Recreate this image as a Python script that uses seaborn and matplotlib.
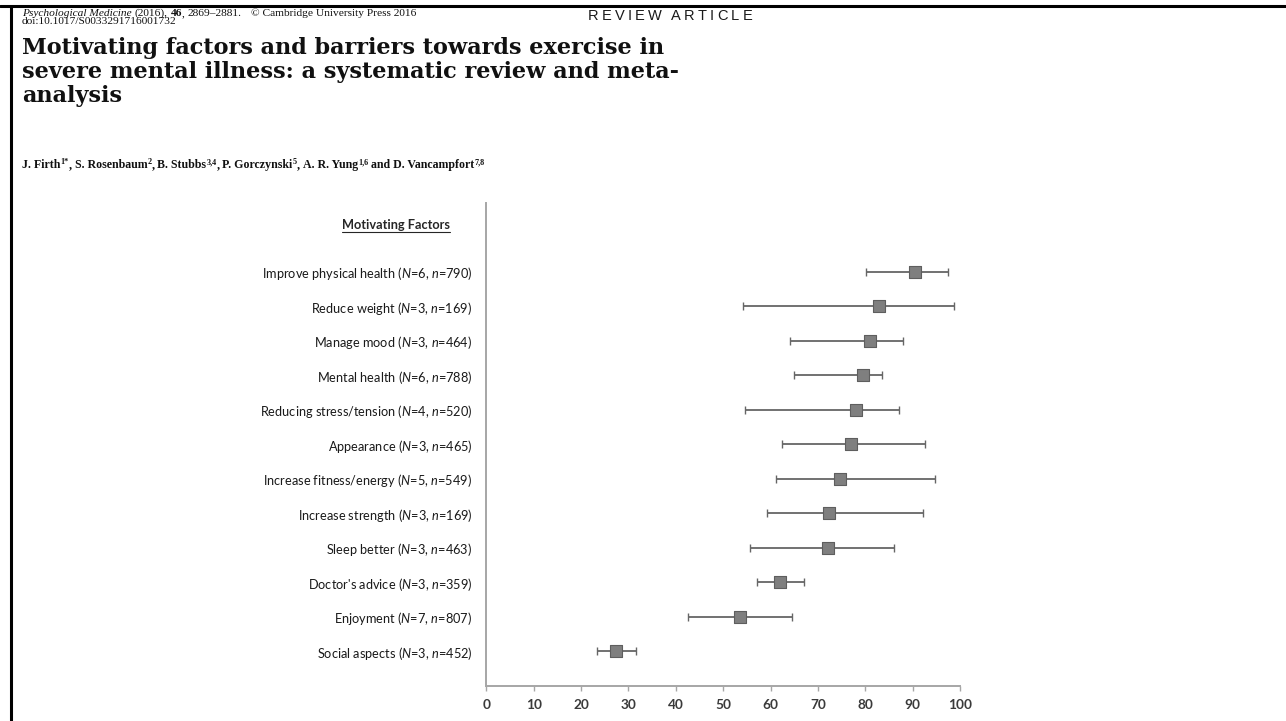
import numpy as np
import pandas as pd
import matplotlib
matplotlib.use("Agg")
import matplotlib.pyplot as plt
from matplotlib.lines import Line2D
import seaborn as sns

# ---------------- data ----------------
factors = [
    "Improve physical health", "Reduce weight", "Manage mood", "Mental health",
    "Reducing stress/tension", "Appearance", "Increase fitness/energy",
    "Increase strength", "Sleep better", "Doctor's advice", "Enjoyment",
    "Social aspects",
]
n_studies = [6, 3, 3, 6, 4, 3, 5, 3, 3, 3, 7, 3]
n_participants = [790, 169, 464, 788, 520, 465, 549, 169, 463, 359, 807, 452]
estimate = [90.5, 82.8, 80.9, 79.6, 78.0, 76.9, 74.7, 72.4, 72.1, 62.1, 53.6, 27.4]
ci_lower = [80.2, 54.2, 64.1, 65.0, 54.7, 62.4, 61.1, 59.3, 55.7, 57.2, 42.6, 23.4]
ci_upper = [97.5, 98.8, 87.9, 83.5, 87.2, 92.6, 94.8, 92.2, 86.1, 67.1, 64.5, 31.5]
x_ticks = [0, 10, 20, 30, 40, 50, 60, 70, 80, 90, 100]

df = pd.DataFrame({
    "factor": factors, "N": n_studies, "n": n_participants,
    "est": estimate, "lo": ci_lower, "hi": ci_upper,
})
df["pos"] = np.arange(len(df))
df["label"] = [f"{f} ($\\mathit{{N}}$={a}, $\\mathit{{n}}$={b})"
               for f, a, b in zip(df.factor, df.N, df.n)]

# ---------------- style ----------------
sns.set_theme(style="white")
plt.rcParams["font.family"] = ["Lato", "DejaVu Sans"]
plt.rcParams["mathtext.fontset"] = "custom"
plt.rcParams["mathtext.rm"] = "Lato"
plt.rcParams["mathtext.it"] = "Lato:italic"
plt.rcParams["mathtext.bf"] = "Lato:bold"

W, H, DPI = 1286, 721, 100
fig = plt.figure(figsize=(W / DPI, H / DPI), dpi=DPI)
fig.patch.set_facecolor("white")

ax_left, ax_right, ax_top, ax_bottom = 486.3, 960.0, 203.0, 685.7
ax = fig.add_axes([ax_left / W, (H - ax_bottom) / H,
                   (ax_right - ax_left) / W, (ax_bottom - ax_top) / H])

grey = "#a6a6a6"
ax.errorbar(df.est, df.pos, xerr=[df.est - df.lo, df.hi - df.est],
            fmt="none", ecolor="#666666", elinewidth=1.3, capsize=2.6,
            capthick=1.0, zorder=2)
sns.scatterplot(data=df, x="est", y="pos", marker="s", s=70,
                color="#7f7f7f", edgecolor="#5e5e5e", linewidth=0.8,
                ax=ax, zorder=3, legend=False)

ax.set_xlim(0, 100)
ax.set_ylim(12, -2)
ax.set_xticks(x_ticks)
ax.set_xticklabels([str(t) for t in x_ticks], fontsize=9.8,
                   fontweight="bold", color="#3a3a3a")
ax.set_yticks(df.pos)
ax.set_yticklabels(df.label, fontsize=9.2, color="#1a1a1a")
ax.tick_params(axis="y", length=0, pad=10)
ax.tick_params(axis="x", direction="out", length=3.5, width=1.0,
               color=grey, pad=6, bottom=True)
ax.set_xlabel("")
ax.set_ylabel("")
for s in ["top", "right"]:
    ax.spines[s].set_visible(False)
for s in ["left", "bottom"]:
    ax.spines[s].set_color(grey)
    ax.spines[s].set_linewidth(1.4)

# ---------------- page decorations ----------------
def fx(x):
    return x / W

def fy(y):
    return (H - y) / H

fig.add_artist(Line2D([0, 1], [fy(5.5), fy(5.5)], color="black", lw=2.2,
                      transform=fig.transFigure))
fig.add_artist(Line2D([fx(10.5), fx(10.5)], [fy(5.5), 0], color="black", lw=2.2,
                      transform=fig.transFigure))

fig.canvas.draw()
renderer = fig.canvas.get_renderer()


def runs(x, y, parts, base, scale=1.0):
    """parts: list of (text, props, dy, gap_after); returns (end_x, artists)"""
    arts = []
    for text, props, dy, gap in parts:
        kw = dict(base)
        kw.update(props)
        kw["fontsize"] = kw["fontsize"] * scale
        t = fig.text(fx(x), fy(y + dy * scale), text, va="baseline", ha="left", **kw)
        arts.append(t)
        bb = t.get_window_extent(renderer)
        x += bb.width + gap * scale
    return x, arts


def fitted_runs(x, y, parts, base, target_w):
    end, arts = runs(x, y, parts, base)
    for a in arts:
        a.remove()
    scale = target_w / (end - x)
    return runs(x, y, parts, base, scale)


def fitted_text(x, y, s, target_w, **kw):
    t = fig.text(fx(x), fy(y), s, va="baseline", ha="left", **kw)
    w = t.get_window_extent(renderer).width
    t.set_fontsize(kw["fontsize"] * target_w / w)
    return t

serif = {"family": ["Liberation Serif", "DejaVu Serif"]}
hdr = dict(serif, fontsize=7.0, color="#111111")
_, hdr_arts = fitted_runs(22, 16, [
    ("Psychological Medicine", {"style": "italic"}, 0, 2.5),
    ("(2016),", {}, 0, 2.5),
    ("46", {"weight": "bold"}, 0, 0),
    (",", {}, 0, 2.5),
    ("2869–2881.", {}, 0, 8),
    ("© Cambridge University Press 2016", {}, 0, 0),
], hdr, 396)
hdr_size = hdr_arts[0].get_fontsize()
fig.text(fx(22), fy(24.5), "doi:10.1017/S0033291716001732", va="baseline",
         ha="left", family=serif["family"], fontsize=hdr_size, color="#111111")

# REVIEW ARTICLE with letter spacing
xr = 588
for ch in "REVIEW ARTICLE":
    if ch == " ":
        xr += 6
        continue
    t = fig.text(fx(xr), fy(20), ch, va="baseline", ha="left",
                 family=["Liberation Sans", "DejaVu Sans"], fontsize=10.5,
                 color="#1a1a1a")
    xr += t.get_window_extent(renderer).width + 3.2

title_lines = ["Motivating factors and barriers towards exercise in",
               "severe mental illness: a systematic review and meta-",
               "analysis"]
t0 = fitted_text(22, 54, title_lines[0], 643,
                 family=["DejaVu Serif"], fontsize=16, weight="bold",
                 color="#111111")
tsize = t0.get_fontsize()
for i, line in enumerate(title_lines[1:], start=1):
    fig.text(fx(22), fy(54 + 24 * i), line, va="baseline", ha="left",
             family=["DejaVu Serif"], fontsize=tsize,
             weight="bold", color="#111111")

ab = dict(serif, fontsize=8.5, weight="bold", color="#111111")
sup = {"fontsize": 5.8}
fitted_runs(22, 168, [
    ("J. Firth", {}, 0, 0.3), ("1*", sup, -4, 0), (",", {}, 0, 2.5),
    ("S. Rosenbaum", {}, 0, 0.3), ("2", sup, -4, 0), (",", {}, 0, 2.5),
    ("B. Stubbs", {}, 0, 0.3), ("3,4", sup, -4, 0), (",", {}, 0, 2.5),
    ("P. Gorczynski", {}, 0, 0.3), ("5", sup, -4, 0), (",", {}, 0, 2.5),
    ("A. R. Yung", {}, 0, 0.3), ("1,6", sup, -4, 2.5),
    ("and D. Vancampfort", {}, 0, 0.3), ("7,8", sup, -4, 0),
], ab, 460)

# panel heading
ht = fig.text(fx(396), fy(229), "Motivating Factors", ha="center",
              va="baseline", fontsize=9.2, weight="bold", color="#262626")
bb = ht.get_window_extent(renderer)
fig.add_artist(Line2D([bb.x0 / W, bb.x1 / W], [fy(232), fy(232)],
                      color="#262626", lw=0.8, transform=fig.transFigure))

fig.savefig("out.png", dpi=DPI, facecolor="white")
